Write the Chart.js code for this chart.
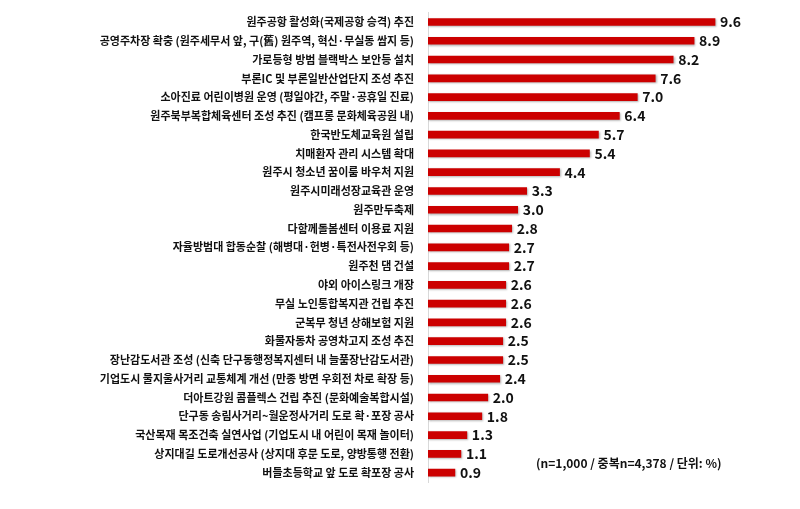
<!DOCTYPE html>
<html>
<head>
<meta charset="utf-8">
<script src="https://cdn.jsdelivr.net/npm/chart.js@4"></script>
<style>
  html, body { margin: 0; padding: 0; background: #fff; }
  #wrap { width: 800px; height: 509px; }
</style>
</head>
<body>
<div id="wrap"><canvas id="myChart"></canvas></div>
<script>
const categories = [
  '원주공항 활성화(국제공항 승격) 추진',
  '공영주차장 확충 (원주세무서 앞, 구(舊) 원주역, 혁신·무실동 쌈지 등)',
  '가로등형 방범 블랙박스 보안등 설치',
  '부론IC 및 부론일반산업단지 조성 추진',
  '소아진료 어린이병원 운영 (평일야간, 주말·공휴일 진료)',
  '원주북부복합체육센터 조성 추진 (캠프롱 문화체육공원 내)',
  '한국반도체교육원 설립',
  '치매환자 관리 시스템 확대',
  '원주시 청소년 꿈이룸 바우처 지원',
  '원주시미래성장교육관 운영',
  '원주만두축제',
  '다함께돌봄센터 이용료 지원',
  '자율방범대 합동순찰 (해병대·헌병·특전사전우회 등)',
  '원주천 댐 건설',
  '야외 아이스링크 개장',
  '무실 노인통합복지관 건립 추진',
  '군복무 청년 상해보험 지원',
  '화물자동차 공영차고지 조성 추진',
  '장난감도서관 조성 (신축 단구동행정복지센터 내 늘품장난감도서관)',
  '기업도시 물지울사거리 교통체계 개선 (만종 방면 우회전 차로 확장 등)',
  '더아트강원 콤플렉스 건립 추진 (문화예술복합시설)',
  '단구동 송림사거리~월운정사거리 도로 확·포장 공사',
  '국산목재 목조건축 실연사업 (기업도시 내 어린이 목재 놀이터)',
  '상지대길 도로개선공사 (상지대 후문 도로, 양방통행 전환)',
  '버들초등학교 앞 도로 확포장 공사'
];
const values = [9.6, 8.9, 8.2, 7.6, 7.0, 6.4, 5.7, 5.4, 4.4, 3.3, 3.0, 2.8, 2.7, 2.7, 2.6, 2.6, 2.6, 2.5, 2.5, 2.4, 2.0, 1.8, 1.3, 1.1, 0.9];
const noteText = '(n=1,000 / 중복n=4,378 / 단위: %)';

const barColor = '#CC0000';
const fontFamily = '"Noto Sans CJK KR", "Noto Sans", sans-serif';

// value labels at bar ends + the sample note
const labelPlugin = {
  id: 'labels',
  afterDatasetsDraw(chart) {
    const ctx = chart.ctx;
    const meta = chart.getDatasetMeta(0);
    ctx.save();
    ctx.fillStyle = '#111';
    ctx.font = 'bold 14px ' + fontFamily;
    ctx.textAlign = 'left';
    ctx.textBaseline = 'middle';
    meta.data.forEach((bar, i) => {
      ctx.fillText(values[i].toFixed(1), bar.x + 5, bar.y);
    });
    ctx.font = 'bold 12px ' + fontFamily;
    ctx.fillText(noteText, 536, 463);
    ctx.restore();
  }
};

const shadowPlugin = {
  id: 'barShadow',
  beforeDatasetsDraw(chart) {
    const ctx = chart.ctx;
    ctx.save();
    ctx.shadowColor = 'rgba(0,0,0,0.3)';
    ctx.shadowBlur = 2;
    ctx.shadowOffsetX = 1;
    ctx.shadowOffsetY = 1;
  },
  afterDatasetsDraw(chart) {
    chart.ctx.restore();
  }
};

const config = {
  type: 'bar',
  data: {
    labels: categories,
    datasets: [{
      data: values,
      backgroundColor: barColor,
      barThickness: 7,
    }]
  },
  options: {
    indexAxis: 'y',
    responsive: true,
    maintainAspectRatio: false,
    animation: false,
    layout: { padding: { top: 1, bottom: 27, right: 73 } },
    plugins: {
      legend: { display: false },
      tooltip: { enabled: false },
    },
    scales: {
      x: {
        display: false,
        min: 0,
        max: 10,
      },
      y: {
        grid: { display: false },
        border: { color: '#d9d9d9', width: 1 },
        ticks: {
          color: '#111',
          padding: 6,
          autoSkip: false,
          font: { family: fontFamily, size: 11, weight: 'bold' },
        },
        afterFit(scale) { scale.width = 428; }
      }
    }
  },
  plugins: [shadowPlugin, labelPlugin]
};

const myChart = new Chart(document.getElementById('myChart'), config);
</script>
</body>
</html>
